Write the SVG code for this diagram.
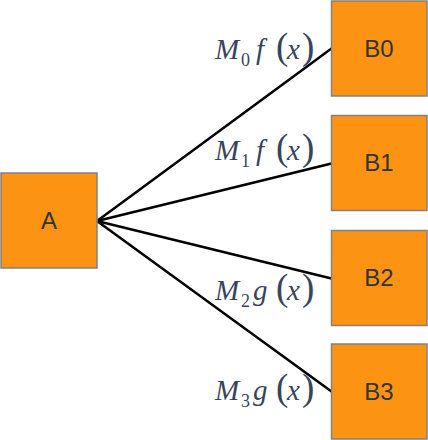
<svg xmlns="http://www.w3.org/2000/svg" width="428" height="440" viewBox="0 0 428 440">
<style>
.box{fill:#fd9312;stroke:#828282;stroke-width:1.5}
.nt{font-family:"Liberation Sans",Arial,sans-serif;font-size:24px;fill:#333;text-anchor:middle}
.edge{stroke:#000;stroke-width:2.5;fill:none}
.m{font-family:"Liberation Serif","Times New Roman",serif;fill:#38445a}
.i{font-style:italic;font-size:29px}
.s{font-size:18px}
.p{font-size:37px;font-weight:300}
</style>
<rect width="428" height="440" fill="#fff"/>
<g id="connectors">
<line class="edge" x1="97" y1="221" x2="331.5" y2="48.5"/>
<line class="edge" x1="97" y1="221" x2="331.5" y2="163.5"/>
<line class="edge" x1="97" y1="221" x2="331.5" y2="278.5"/>
<line class="edge" x1="97" y1="221" x2="331.5" y2="391.5"/>
</g>
<g id="labels">
<text class="m"><tspan class="i" x="215" y="58.5">M</tspan><tspan class="s" x="241" y="65.5">0</tspan><tspan class="i" x="256" y="58.5">f</tspan><tspan class="p" x="276" y="58.5">(</tspan><tspan class="i" x="287" y="58.5">x</tspan><tspan class="p" x="302" y="58.5">)</tspan></text>
<text class="m"><tspan class="i" x="215" y="160">M</tspan><tspan class="s" x="241" y="167">1</tspan><tspan class="i" x="256" y="160">f</tspan><tspan class="p" x="276" y="160">(</tspan><tspan class="i" x="287" y="160">x</tspan><tspan class="p" x="302" y="160">)</tspan></text>
<text class="m"><tspan class="i" x="215" y="299.5">M</tspan><tspan class="s" x="241" y="306.5">2</tspan><tspan class="i" x="253" y="299.5">g</tspan><tspan class="p" x="276" y="299.5">(</tspan><tspan class="i" x="287" y="299.5">x</tspan><tspan class="p" x="302" y="299.5">)</tspan></text>
<text class="m"><tspan class="i" x="215" y="400">M</tspan><tspan class="s" x="241" y="407">3</tspan><tspan class="i" x="253" y="400">g</tspan><tspan class="p" x="276" y="400">(</tspan><tspan class="i" x="287" y="400">x</tspan><tspan class="p" x="302" y="400">)</tspan></text>
</g>
<g id="A"><rect class="box" x="1" y="173" width="96" height="95"/><text class="nt" x="49" y="229">A</text></g>
<g id="B0"><rect class="box" x="331.5" y="1" width="95.5" height="95"/><text class="nt" x="379" y="56.5">B0</text></g>
<g id="B1"><rect class="box" x="331.5" y="115.5" width="95.5" height="95"/><text class="nt" x="379" y="171">B1</text></g>
<g id="B2"><rect class="box" x="331.5" y="230.5" width="95.5" height="95"/><text class="nt" x="379" y="286">B2</text></g>
<g id="B3"><rect class="box" x="331.5" y="344" width="95.5" height="95"/><text class="nt" x="379" y="400">B3</text></g>
</svg>
